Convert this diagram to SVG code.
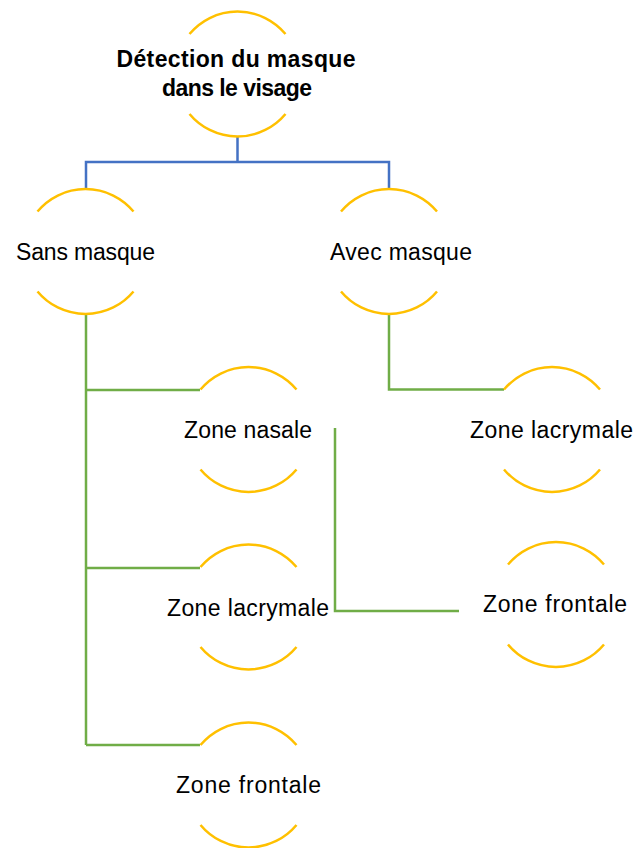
<svg xmlns="http://www.w3.org/2000/svg" width="637" height="848" viewBox="0 0 637 848">
<style>
.arc{fill:none;stroke:#FFC000;stroke-width:2.5}
.blue{fill:none;stroke:#4472C4;stroke-width:2.5}
.green{fill:none;stroke:#70AD47;stroke-width:2.5}
text{font-family:"Liberation Sans",Arial,sans-serif;font-size:23px;fill:#000;text-anchor:middle}
.b{font-weight:bold;font-size:23px}
</style>
<defs>
<path id="ring" d="M-48,-40 A62.5,62.5 0 0 1 48,-40 M-48,40 A62.5,62.5 0 0 0 48,40"/>
</defs>
<rect width="637" height="848" fill="#fff"/>
<g id="connectors">
<path class="blue" d="M237.5,136.5 V162 M86,189 V162 H389 V189"/>
<path class="green" d="M86,314 V745 M86,390 H200 M86,568 H200 M86,745 H200"/>
<path class="green" d="M389,314 V389.5 H504"/>
<path class="green" d="M335,428 V611 H459"/>
</g>
<g id="root">
<use href="#ring" class="arc" x="237.5" y="74"/>
<text class="b" x="236" y="67" textLength="239">Détection du masque</text>
<text class="b" x="237" y="96" textLength="150">dans le visage</text>
</g>
<g id="sans">
<use href="#ring" class="arc" x="85.5" y="251.5"/>
<text x="85.5" y="260" textLength="139">Sans masque</text>
</g>
<g id="avec">
<use href="#ring" class="arc" x="389" y="251.5"/>
<text x="401" y="260" textLength="142">Avec masque</text>
</g>
<g id="nasale">
<use href="#ring" class="arc" x="248.5" y="429.5"/>
<text x="248" y="438" textLength="128">Zone nasale</text>
</g>
<g id="lacrymale-avec">
<use href="#ring" class="arc" x="552" y="429.5"/>
<text x="551.5" y="438" textLength="163">Zone lacrymale</text>
</g>
<g id="lacrymale-sans">
<use href="#ring" class="arc" x="248.5" y="607"/>
<text x="248" y="616" textLength="162">Zone lacrymale</text>
</g>
<g id="frontale-avec">
<use href="#ring" class="arc" x="556" y="604.5"/>
<text x="555" y="612" textLength="144">Zone frontale</text>
</g>
<g id="frontale-sans">
<use href="#ring" class="arc" x="248.5" y="785"/>
<text x="248.5" y="793" textLength="145">Zone frontale</text>
</g>
</svg>
